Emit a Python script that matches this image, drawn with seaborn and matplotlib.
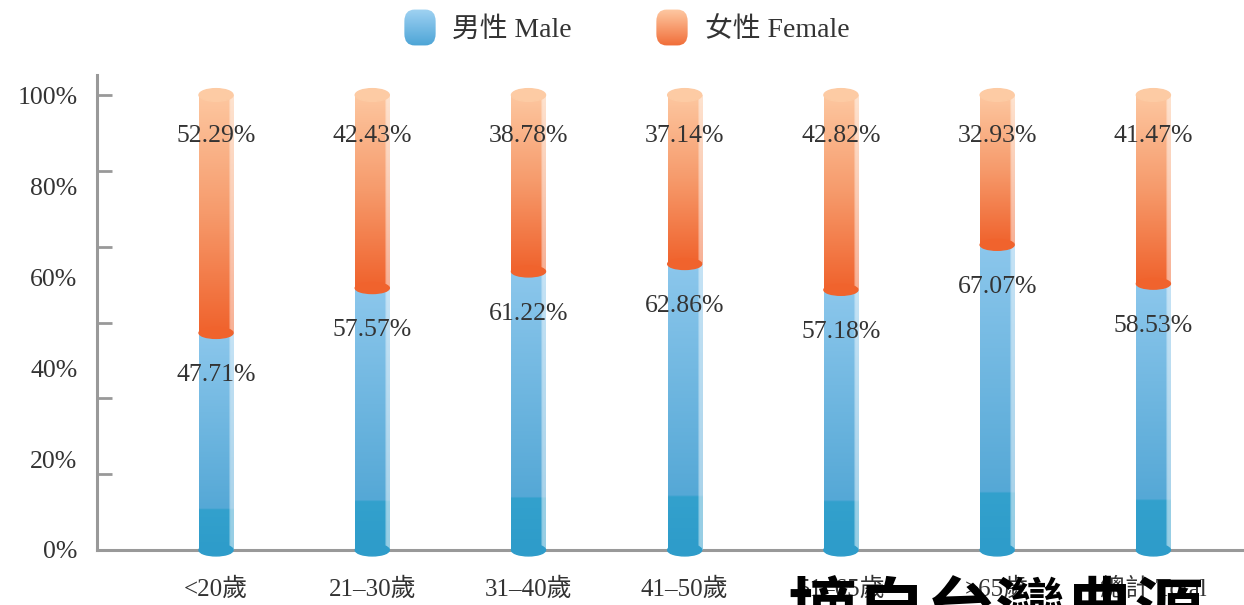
import numpy as np
import pandas as pd
import matplotlib
matplotlib.use("Agg")
import matplotlib.pyplot as plt
import seaborn as sns
from matplotlib.patches import Ellipse, FancyBboxPatch
from matplotlib.colors import to_rgb

# ---------------- data ----------------
categories = ["<20歲", "21–30歲", "31–40歲", "41–50歲", "51–65歲", ">65歲", "總計 Total"]
male = [47.71, 57.57, 61.22, 62.86, 57.18, 67.07, 58.53]
female = [52.29, 42.43, 38.78, 37.14, 42.82, 32.93, 41.47]
ytick_values = [0, 20, 40, 60, 80, 100]
ytick_labels = ["0%", "20%", "40%", "60%", "80%", "100%"]
legend_labels = ["男性 Male", "女性 Female"]
watermark = "摘自台灣典源"

df = pd.DataFrame({"cat": categories, "male": male, "female": female})
df["total"] = df["male"] + df["female"]

sns.set_style("white")
plt.rcParams["font.family"] = ["Liberation Serif", "Noto Sans CJK TC", "DejaVu Sans"]
FAM = ["Liberation Serif", "Noto Sans CJK TC", "DejaVu Sans"]
TXT = "#333333"

fig = plt.figure(figsize=(12.44, 6.05), dpi=100)
ax = fig.add_axes([97 / 1244, 55 / 605, 1 - 97 / 1244, 475 / 605])

BW = 0.218
sns.barplot(data=df, x="cat", y="total", color="#F5996A", width=BW, ax=ax,
            order=categories, saturation=1)
sns.barplot(data=df, x="cat", y="male", color="#5AAAD6", width=BW, ax=ax,
            order=categories, saturation=1)

patches = list(ax.patches)
tot_p = patches[:7]
male_p = patches[7:14]


def grad(stops, n=300, cols=16, hl=2):
    """stops: list of (pos 0=top..1=bottom, hex)"""
    pos = np.array([s[0] for s in stops])
    rgb = np.array([to_rgb(s[1]) for s in stops])
    t = np.linspace(0, 1, n)
    col = np.stack([np.interp(t, pos, rgb[:, k]) for k in range(3)], axis=1)
    img = np.repeat(col[:, None, :], cols, axis=1)
    if hl > 0:
        img[:, -hl:, :] = img[:, -hl:, :] * 0.5 + 0.5
    return img


orange_img = grad([(0, "#FDC7A0"), (0.5, "#F69A6B"), (1, "#F0622C")])
blue_img = grad([(0, "#8CC7EC"), (0.81, "#55A8D6"), (0.815, "#33A1CD"), (1, "#2E9CCA")])

for p_t, p_m, m in zip(tot_p, male_p, male):
    x0 = p_t.get_x()
    w = p_t.get_width()
    xc = x0 + w / 2
    top = p_t.get_height()
    p_t.set_visible(False)
    p_m.set_visible(False)
    ax.imshow(orange_img, extent=[x0, x0 + w, m, top], aspect="auto",
              zorder=3, interpolation="bilinear")
    ax.imshow(blue_img, extent=[x0, x0 + w, 0, m], aspect="auto",
              zorder=3, interpolation="bilinear")
    ax.add_patch(Ellipse((xc, top), w, 2.8, color="#FDCBA4", zorder=4, clip_on=False))
    ax.add_patch(Ellipse((xc, m), w, 2.4, color="#F0632D", zorder=4))
    ax.add_patch(Ellipse((xc, 0), w, 2.6, color="#2E9CCA", zorder=4, clip_on=False))

# value labels
for i, (m, f) in enumerate(zip(male, female)):
    ax.text(i, 91, f"{f:.2f}%", ha="center", va="center", fontsize=18.5,
            color=TXT, zorder=6, family=FAM)
    ax.text(i, m - 9.3, f"{m:.2f}%", ha="center", va="center", fontsize=18.5,
            color=TXT, zorder=6, family=FAM)

ax.set_xlim(-0.762, 6.58)
ax.set_ylim(0, 104.4)

ax.yaxis.remove_overlapping_locs = False
ax.set_yticks(ytick_values)
ax.set_yticklabels(ytick_labels, fontsize=18.5, color=TXT)
ax.set_yticks(np.linspace(0, 100, 7), minor=True)
ax.tick_params(axis="y", which="major", left=True, length=0, pad=14)
ax.tick_params(axis="y", which="minor", left=True, direction="in", length=11,
               width=2, color="#999999")
ax.tick_params(axis="x", length=0, pad=20, labelsize=18, labelcolor=TXT)
ax.set_xlabel("")
ax.set_ylabel("")
for s in ["top", "right"]:
    ax.spines[s].set_visible(False)
for s in ["left", "bottom"]:
    ax.spines[s].set_color("#999999")
    ax.spines[s].set_linewidth(2.2)
ax.grid(False)

# legend
icons = [(403, legend_labels[0], [(0, "#A3D4F2"), (0.25, "#8CC7EC"), (1, "#4AA3D5")], 452),
         (655, legend_labels[1], [(0, "#FECBA6"), (0.25, "#FBB48A"), (1, "#F06A35")], 705)]
for xpx, lab, stops, tx in icons:
    iax = fig.add_axes([xpx / 1244, 1 - 47 / 605, 34 / 1244, 39 / 605])
    iax.set_axis_off()
    im = iax.imshow(grad(stops, cols=8, hl=0), extent=[0, 1, 0, 1], aspect="auto",
                    interpolation="bilinear")
    iax.set_xlim(0, 1)
    iax.set_ylim(0, 1)
    clip = FancyBboxPatch((0.04, 0.04), 0.92, 0.92,
                          boxstyle="round,pad=0,rounding_size=0.3",
                          transform=iax.transAxes, facecolor="none", edgecolor="none")
    iax.add_patch(clip)
    im.set_clip_path(clip)
    fig.text(tx / 1244, 1 - 30 / 605, lab, fontsize=20, color=TXT, va="center",
             ha="left", family=FAM)

# overlay text cropped at bottom edge
fig.text(788 / 1244, -0.051, watermark, fontsize=50, fontweight="bold",
         color="black", family=["Noto Sans CJK TC"], va="baseline", ha="left",
         zorder=10)

fig.savefig("out.png", dpi=100)
